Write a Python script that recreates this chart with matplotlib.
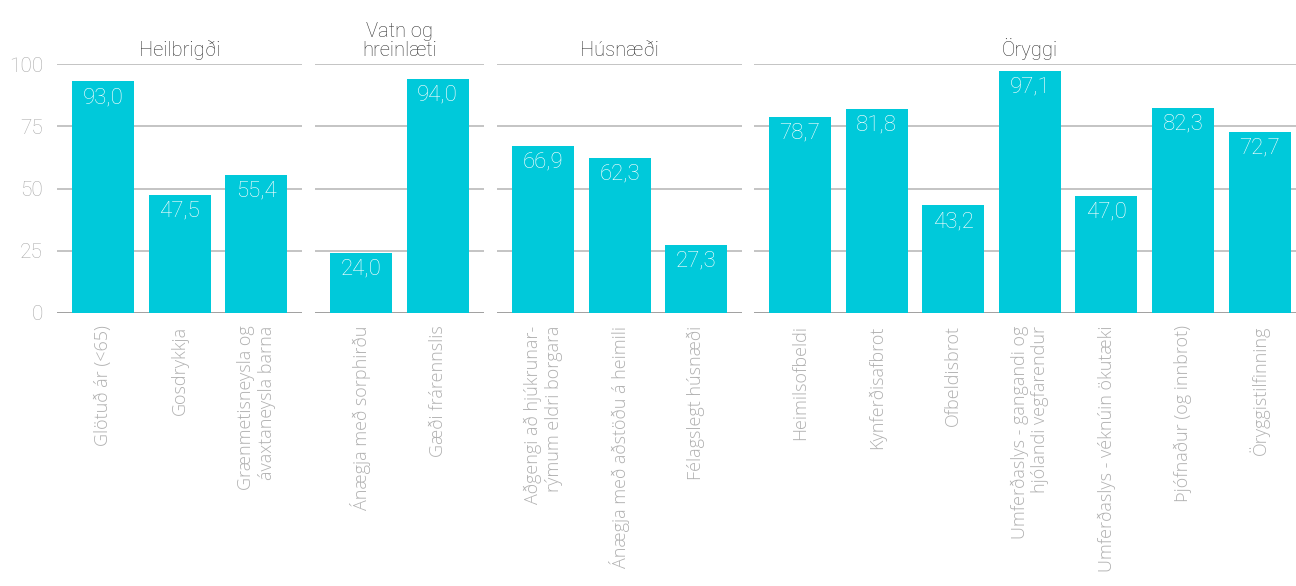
import matplotlib.pyplot as plt
from matplotlib import font_manager

# data
groups = ['Heilbrigði', 'Vatn og\nhreinlæti', 'Húsnæði', 'Öryggi']

heilbrigdi_labels = ['Glötuð ár (<65)', 'Gosdrykkja', 'Grænmetisneysla og\návaxtaneysla barna']
heilbrigdi_values = [93.0, 47.5, 55.4]

vatn_labels = ['Ánægja með sorphirðu', 'Gæði frárennslis']
vatn_values = [24.0, 94.0]

husnaedi_labels = ['Aðgengi að hjúkrunar-\nrýmum eldri borgara', 'Ánægja með aðstöðu á heimili', 'Félagslegt húsnæði']
husnaedi_values = [66.9, 62.3, 27.3]

oryggi_labels = ['Heimilsofbeldi', 'Kynferðisafbrot', 'Ofbeldisbrot',
                 'Umferðaslys - gangandi og\nhjólandi vegfarendur',
                 'Umferðaslys - véknúin ökutæki', 'Þjófnaður (og innbrot)',
                 'Öryggistilfinning']
oryggi_values = [78.7, 81.8, 43.2, 97.1, 47.0, 82.3, 72.7]

yticks = [0, 25, 50, 75, 100]

all_labels = [heilbrigdi_labels, vatn_labels, husnaedi_labels, oryggi_labels]
all_values = [heilbrigdi_values, vatn_values, husnaedi_values, oryggi_values]

bar_color = '#00C9DA'
grid_color = '#c4c4c4'

names = {f.name for f in font_manager.fontManager.ttflist}
num_font = 'Roboto' if 'Roboto' in names else 'DejaVu Sans'
lab_font = 'Open Sans' if 'Open Sans' in names else 'DejaVu Sans'

W, H = 1296, 586
fig = plt.figure(figsize=(W / 100, H / 100), dpi=100)

unit = 76.6  # px per bar slot
y0_px, y100_px = 313, 64
lefts = [57, 315, 497, 754]

for i, (title, labels, values) in enumerate(zip(groups, all_labels, all_values)):
    n = len(values)
    wpx = (n + 0.2) * unit
    ax = fig.add_axes([lefts[i] / W, (H - y0_px) / H, wpx / W, (y0_px - y100_px) / H])
    x = list(range(n))
    ax.bar(x, values, width=0.81, color=bar_color, zorder=3)
    ax.set_xlim(-0.6, n - 0.4)
    ax.set_ylim(0, 100)
    ax.set_yticks(yticks)
    for t in yticks:
        ax.axhline(t, color='#a0a0a0' if t == 0 else grid_color, lw=1.4, zorder=1)
    for s in ax.spines.values():
        s.set_visible(False)
    ax.tick_params(length=0)
    ax.set_xticks(x)
    ax.set_xticklabels(labels, rotation=90, va='top', ha='center', multialignment='right',
                       fontsize=13, color='#b0b0b0', family=lab_font, fontweight='light')
    ax.tick_params(axis='x', pad=9)
    if i == 0:
        ax.set_yticklabels([str(t) for t in yticks], fontsize=15, color='#aaaaaa',
                           family=num_font, fontweight='light')
        ax.tick_params(axis='y', pad=10)
    else:
        ax.set_yticklabels([])

    for xi, v in zip(x, values):
        ax.annotate(f'{v:.1f}'.replace('.', ','), (xi, v), xytext=(0, -4),
                    textcoords='offset points', ha='center', va='top',
                    color='white', fontsize=16, family=num_font, fontweight='light', zorder=4)

    ax.annotate(title, ((n - 1) / 2, 100), xytext=(0, 3), textcoords='offset points',
                ha='center', va='bottom', fontsize=14.5, color='#333333',
                family=num_font, fontweight='light', linespacing=1.0, annotation_clip=False)

fig.savefig('out.png', dpi=100)
